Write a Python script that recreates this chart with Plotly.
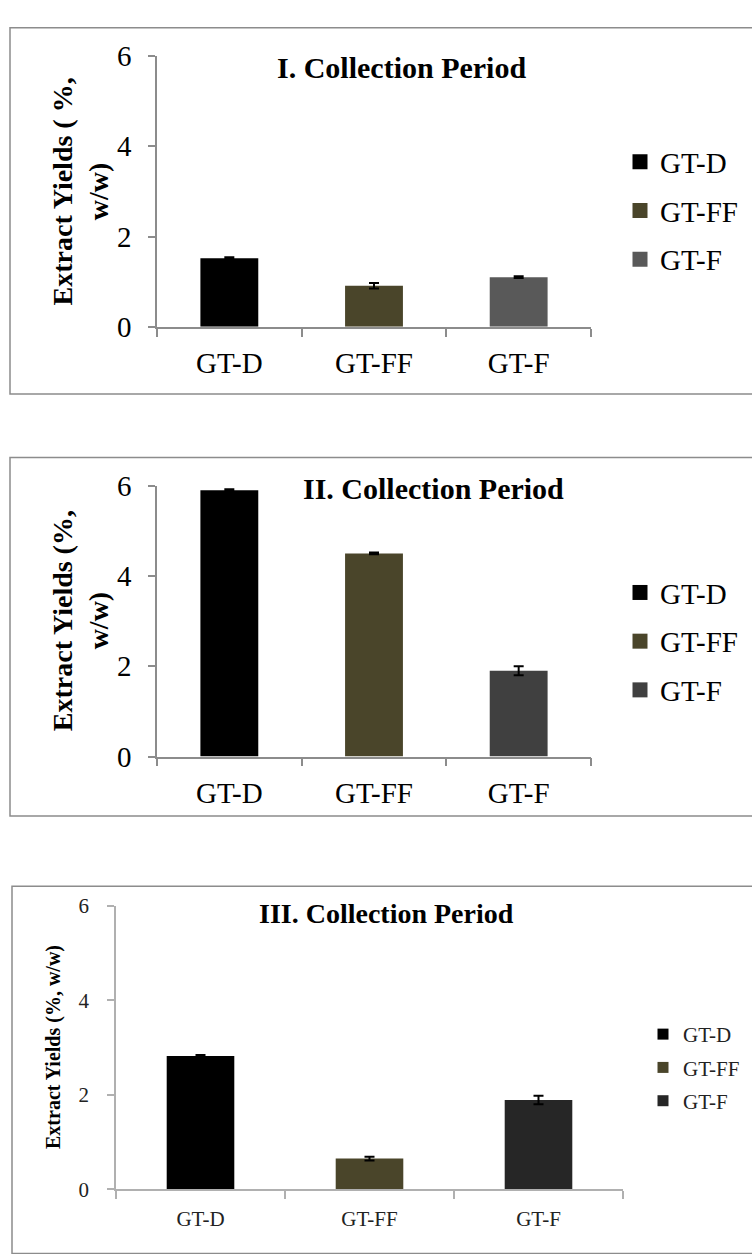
import plotly.graph_objects as go

categories = ["GT-D", "GT-FF", "GT-F"]

period1 = [1.52, 0.91, 1.10]
err1 = [0.02, 0.06, 0.02]
period2 = [5.90, 4.50, 1.90]
err2 = [0.02, 0.02, 0.10]
period3 = [2.82, 0.65, 1.89]
err3 = [0.02, 0.04, 0.09]

titles = ["I. Collection Period", "II. Collection Period", "III. Collection Period"]
ytitles = ["Extract Yields ( %,<br>w/w)", "Extract Yields (%,<br>w/w)", "Extract Yields (%, w/w)"]
yticks = [0, 2, 4, 6]

colors1 = ["#000000", "#4A452A", "#595959"]
colors2 = ["#000000", "#4A452A", "#404040"]
colors3 = ["#000000", "#4A452A", "#262626"]

W, H = 752, 1254
FONT = "Liberation Serif, Times New Roman, serif"


def px(x):
    return x / W


def py(y):
    return 1 - y / H


panels = [
    dict(vals=period1, errs=err1, colors=colors1, xd=(157, 591), yd=(319, 41),
         tick=29, leg=29, legx=620, legy=200, gap=8, msize=15, title=(401, 53, 30),
         yt=(80, 180, 28), axcol="#8c8c8c", txtcol="#000000", stand=11, box=(10, 12, 760, 388)),
    dict(vals=period2, errs=err2, colors=colors2, xd=(157, 591), yd=(760, 482),
         tick=29, leg=29, legx=620, legy=642, gap=8, msize=15, title=(433, 485, 30),
         yt=(80, 621, 28), axcol="#8c8c8c", txtcol="#000000", stand=11, box=(10, 453, 760, 821)),
    dict(vals=period3, errs=err3, colors=colors3, xd=(116, 623), yd=(1204, 913),
         tick=21, leg=21, legx=643, legy=1079, gap=3, msize=11, title=(386, 921, 28),
         yt=(53, 1058, 20), axcol="#b0b0b0", txtcol="#222222", stand=14, box=(12, 893, 760, 1270)),
]

fig = go.Figure()
layout = dict(
    width=W, height=H, margin=dict(l=0, r=0, t=0, b=0),
    paper_bgcolor="white", plot_bgcolor="white",
    barmode="overlay", font=dict(family=FONT, color="#000000"),
    annotations=[], shapes=[],
)

for i, p in enumerate(panels):
    n = "" if i == 0 else str(i + 1)
    xa, ya = "x" + n, "y" + n
    leg = "legend" + n
    for j, cat in enumerate(categories):
        fig.add_trace(go.Bar(
            x=[cat], y=[p["vals"][j]], xaxis=xa, yaxis=ya, width=0.4,
            marker=dict(color=p["colors"][j], line=dict(width=0)),
            error_y=dict(type="data", array=[p["errs"][j]], color="#000000",
                         thickness=2, width=5),
            showlegend=False,
        ))
    for j, cat in enumerate(categories):
        fig.add_trace(go.Scatter(
            x=[None], y=[None], xaxis=xa, yaxis=ya, mode="markers", name=cat,
            marker=dict(symbol="square", size=p["msize"], color=p["colors"][j]),
            legend=leg, legendgroup=f"{i}-{cat}", showlegend=True,
        ))
    layout["xaxis" + n] = dict(
        domain=[px(p["xd"][0]), px(p["xd"][1])], anchor=ya,
        type="category", categoryorder="array", categoryarray=categories,
        range=[-0.5, 2.5], showline=True, linecolor=p["axcol"], linewidth=1.5,
        ticks="outside", tickson="boundaries", ticklen=8, tickcolor=p["axcol"],
        tickwidth=1.5, showgrid=False, zeroline=False, fixedrange=True,
        tickfont=dict(family=FONT, size=p["tick"], color=p["txtcol"]),
        ticklabelstandoff=10,
    )
    layout["yaxis" + n] = dict(
        domain=[py(p["yd"][0]), py(p["yd"][1])], anchor=xa,
        range=[0, 6], tickvals=yticks, showline=True, linecolor=p["axcol"],
        linewidth=1.5, ticks="outside", ticklen=7, tickcolor=p["axcol"],
        tickwidth=1.5, showgrid=False, zeroline=False, fixedrange=True,
        tickfont=dict(family=FONT, size=p["tick"], color=p["txtcol"]),
        ticklabelstandoff=p["stand"],
    )
    layout[leg] = dict(
        x=px(p["legx"]), xanchor="left", y=py(p["legy"]), yanchor="middle",
        font=dict(family=FONT, size=p["leg"], color=p["txtcol"]),
        tracegroupgap=p["gap"], itemwidth=30, bgcolor="rgba(0,0,0,0)",
    )
    tx, ty, ts = p["title"]
    layout["annotations"].append(dict(
        text="<b>" + titles[i] + "</b>", x=px(tx), y=py(ty), xref="paper", yref="paper",
        xanchor="center", yanchor="middle", showarrow=False,
        font=dict(family=FONT, size=ts, color="#000000"),
    ))
    yx, yy, ys = p["yt"]
    layout["annotations"].append(dict(
        text="<b>" + ytitles[i] + "</b>", x=px(yx), y=py(yy), xref="paper", yref="paper",
        xanchor="center", yanchor="middle", showarrow=False, textangle=-90,
        font=dict(family=FONT, size=ys, color="#000000"),
    ))
    bx0, by0, bx1, by1 = p["box"]
    layout["shapes"].append(dict(
        type="rect", xref="paper", yref="paper", x0=px(bx0), x1=px(bx1),
        y0=py(by1), y1=py(by0), line=dict(color="#8c8c8c", width=1.5),
        fillcolor="rgba(0,0,0,0)", layer="below",
    ))

fig.update_layout(**layout)
fig.write_html("out.html")
